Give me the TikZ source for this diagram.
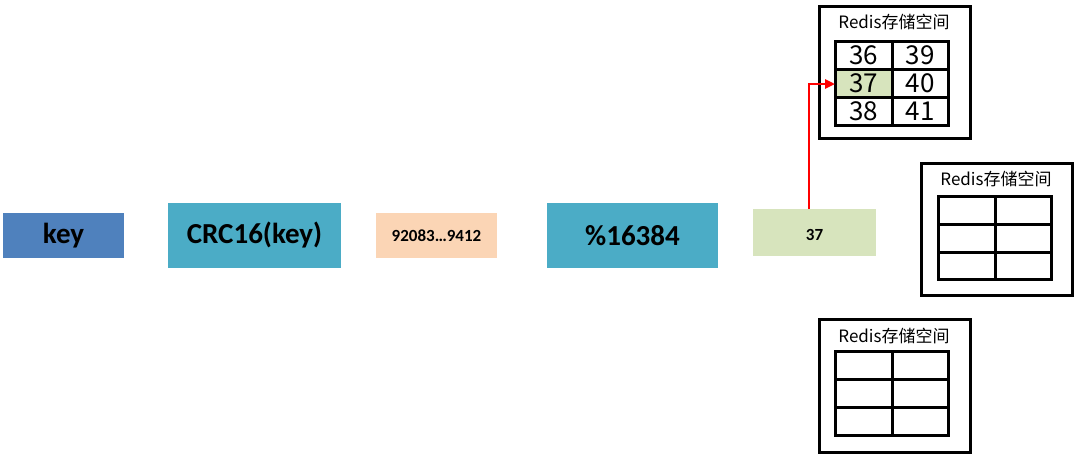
\documentclass[tikz,border=0pt]{standalone}
\usepackage{fontspec}
\setmainfont{Carlito}
\newfontfamily\cjk{Noto Sans CJK SC}
\usetikzlibrary{arrows.meta}
\definecolor{keyblue}{HTML}{4F81BD}
\definecolor{tealc}{HTML}{4BACC6}
\definecolor{peach}{HTML}{FBD5B5}
\definecolor{lgreen}{HTML}{D7E4BD}
\tikzset{
  flowbox/.style={draw=none, inner sep=0pt, font=\bfseries},
  outerbox/.style={draw=black, line width=3pt},
  gridline/.style={draw=black, line width=3pt},
  title/.style={font=\cjk\fontsize{17}{19}\selectfont, inner sep=0pt},
  cellnum/.style={font=\cjk\fontsize{26}{28}\selectfont, inner sep=0pt},
  redarrow/.style={draw=red, line width=2.5pt, -{Triangle[length=10pt,width=9pt]}}
}
\begin{document}
\begin{tikzpicture}[x=1pt,y=-1pt]
\useasboundingbox (0,0) rectangle (1079,461);
% flow boxes
\fill[keyblue] (3,213) rectangle (124,258);
\node[flowbox, font=\bfseries\fontsize{29}{31}\selectfont] (key) at (63.5,235.5) {key};
\fill[tealc] (168,203) rectangle (341,268);
\node[flowbox, font=\bfseries\fontsize{29}{31}\selectfont] (crc) at (254.5,235.5) {CRC16(key)};
\fill[peach] (376,213) rectangle (497,258);
\node[flowbox, font=\bfseries\fontsize{17}{19}\selectfont] (hash) at (436.5,236) {92083…9412};
\fill[tealc] (547,203) rectangle (718,268);
\node[flowbox, font=\bfseries\fontsize{29}{31}\selectfont] (mod) at (632.5,235.5) {\%16384};
\fill[lgreen] (753,209) rectangle (876,256);
\node[flowbox, font=\bfseries\fontsize{17}{19}\selectfont] (slot) at (814.5,235) {37};
\coordinate (slottop) at (809,209);
% storage 1
\draw[outerbox] (819,6) rectangle (970,138);
\node[title] (t1) at (894,22) {Redis存储空间};
\fill[lgreen] (835,69) rectangle (892,97);
\draw[gridline] (835,41) rectangle (948,125);
\draw[gridline] (835,69) -- (948,69) (835,97) -- (948,97) (892,41) -- (892,125);
\node[cellnum] (c36) at (863.5,55) {36};
\node[cellnum] (c37) at (863.5,83) {37};
\node[cellnum] (c38) at (863.5,111) {38};
\node[cellnum] (c39) at (920,55) {39};
\node[cellnum] (c40) at (920,83) {40};
\node[cellnum] (c41) at (920,111) {41};
\coordinate (c37w) at (835,84);
% storage 2
\draw[outerbox] (921,163) rectangle (1072,295);
\node[title] (t2) at (996,179) {Redis存储空间};
\draw[gridline] (938,196) rectangle (1051,279);
\draw[gridline] (938,224) -- (1051,224) (938,252) -- (1051,252) (995,196) -- (995,279);
% storage 3
\draw[outerbox] (819,319) rectangle (970,452);
\node[title] (t3) at (894,336) {Redis存储空间};
\draw[gridline] (835,351) rectangle (948,435);
\draw[gridline] (835,379) -- (948,379) (835,407) -- (948,407) (892,351) -- (892,435);
% arrow
\draw[redarrow] (slottop) |- (c37w);
\end{tikzpicture}
\end{document}
